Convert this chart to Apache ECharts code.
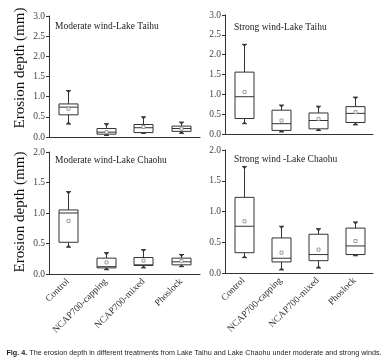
<!DOCTYPE html>
<html><head><meta charset="utf-8">
<script src="https://cdn.jsdelivr.net/npm/echarts@6/dist/echarts.min.js"></script>
<style>html,body{margin:0;padding:0;background:#fff}#c{width:386px;height:364px}</style>
</head><body><div id="c"></div>
<script>
const categories = ['Control', 'NCAP700-capping', 'NCAP700-mixed', 'Phoslock'];
// [min, Q1, median, Q3, max]
const modTaihu = [[0.32,0.55,0.74,0.82,1.15],[0.04,0.07,0.12,0.21,0.33],[0.09,0.11,0.23,0.31,0.50],[0.09,0.14,0.21,0.27,0.37]];
const modTaihuMean = [0.70,0.12,0.25,0.21];
const strTaihu = [[0.26,0.39,0.94,1.56,2.26],[0.05,0.09,0.26,0.60,0.73],[0.09,0.13,0.34,0.53,0.70],[0.23,0.29,0.52,0.69,0.93]];
const strTaihuMean = [1.06,0.34,0.38,0.55];
const modChaohu = [[0.44,0.52,1.00,1.05,1.35],[0.07,0.10,0.12,0.26,0.35],[0.10,0.14,0.15,0.27,0.40],[0.12,0.15,0.20,0.26,0.32]];
const modChaohuMean = [0.87,0.19,0.22,0.21];
const strChaohu = [[0.25,0.33,0.76,1.23,1.73],[0.05,0.18,0.24,0.57,0.76],[0.08,0.20,0.30,0.63,0.72],[0.28,0.30,0.44,0.73,0.83]];
const strChaohuMean = [0.84,0.33,0.38,0.52];
const panelTitles = ['Moderate wind-Lake Taihu', 'Strong wind-Lake Taihu', 'Moderate wind-Lake Chaohu', 'Strong wind -Lake Chaohu'];
const yMaxTop = 3.0, yMaxBottom = 2.0, yInterval = 0.5;

const SERIF = 'Liberation Serif, DejaVu Serif, serif';
const LINE = '#333';

function renderBox(params, api) {
  const x = api.value(0);
  const pMin = api.coord([x, api.value(1)]);
  const pQ1 = api.coord([x, api.value(2)]);
  const pMed = api.coord([x, api.value(3)]);
  const pQ3 = api.coord([x, api.value(4)]);
  const pMax = api.coord([x, api.value(5)]);
  const pMean = api.coord([x, api.value(6)]);
  const cx = Math.round(pMed[0]) + 0.5;
  const hw = 9.5, cw = 2.5;
  const st = { stroke: LINE, lineWidth: 1, fill: null };
  const line = (x1, y1, x2, y2) => ({ type: 'line', shape: { x1, y1, x2, y2 }, style: st });
  const tri = (y, dir) => ({ type: 'polygon', shape: { points: [[cx - 2, y], [cx + 2, y], [cx, y + dir * 3]] }, style: { fill: LINE } });
  return {
    type: 'group',
    children: [
      line(cx, pQ3[1], cx, pMax[1]),
      line(cx, pQ1[1], cx, pMin[1]),
      line(cx - cw, pMax[1], cx + cw, pMax[1]),
      line(cx - cw, pMin[1], cx + cw, pMin[1]),
      tri(pMax[1], 1),
      tri(pMin[1], -1),
      { type: 'rect', shape: { x: cx - hw, y: pQ3[1], width: hw * 2, height: pQ1[1] - pQ3[1] }, style: { stroke: LINE, lineWidth: 1, fill: '#fff' } },
      line(cx - hw, pMed[1], cx + hw, pMed[1]),
      { type: 'rect', shape: { x: cx - 1.5, y: pMean[1] - 1.5, width: 3, height: 3 }, style: { stroke: '#888', lineWidth: 0.8, fill: '#fff' } }
    ]
  };
}

const panels = [
  { box: modTaihu, mean: modTaihuMean, max: yMaxTop, grid: { left: 49, top: 16, width: 151, height: 121 }, labels: false },
  { box: strTaihu, mean: strTaihuMean, max: yMaxTop, grid: { left: 225, top: 15, width: 148, height: 119 }, labels: false },
  { box: modChaohu, mean: modChaohuMean, max: yMaxBottom, grid: { left: 49, top: 152, width: 151, height: 122 }, labels: true },
  { box: strChaohu, mean: strChaohuMean, max: yMaxBottom, grid: { left: 225, top: 150, width: 148, height: 123 }, labels: true }
];

const option = {
  backgroundColor: '#fff',
  animation: false,
  grid: panels.map(p => p.grid),
  xAxis: panels.map((p, i) => ({
    type: 'category', gridIndex: i, data: categories, boundaryGap: true,
    axisLine: { lineStyle: { color: LINE, width: 1 } },
    axisTick: { alignWithLabel: true, length: 3, lineStyle: { color: LINE } },
    axisLabel: { show: p.labels, rotate: 45, fontFamily: SERIF, fontSize: 9.5, color: '#333', margin: 6, interval: 0 }
  })),
  yAxis: panels.map((p, i) => ({
    type: 'value', gridIndex: i, min: 0, max: p.max, interval: yInterval,
    axisLine: { show: true, lineStyle: { color: LINE, width: 1 } },
    axisTick: { show: true, length: 3, lineStyle: { color: LINE } },
    splitLine: { show: false },
    axisLabel: { fontFamily: SERIF, fontSize: 9.5, color: '#444', margin: 4, formatter: v => v.toFixed(1) }
  })),
  series: panels.map((p, i) => ({
    type: 'custom', xAxisIndex: i, yAxisIndex: i,
    renderItem: renderBox,
    encode: { x: 0, y: [1, 2, 3, 4, 5] },
    data: p.box.map((b, j) => [j, b[0], b[1], b[2], b[3], b[4], p.mean[j]])
  })),
  graphic: [
    { type: 'text', left: 55, top: 21, style: { text: panelTitles[0], font: '9.5px ' + SERIF, fill: '#222' } },
    { type: 'text', left: 234, top: 22, style: { text: panelTitles[1], font: '9.5px ' + SERIF, fill: '#222' } },
    { type: 'text', left: 55, top: 155, style: { text: panelTitles[2], font: '9.5px ' + SERIF, fill: '#222' } },
    { type: 'text', left: 234, top: 154, style: { text: panelTitles[3], font: '9.5px ' + SERIF, fill: '#222' } },
    { type: 'text', x: 20, y: 68, rotation: Math.PI / 2, style: { text: 'Erosion depth (mm)', font: '15px ' + SERIF, fill: '#111', align: 'center', verticalAlign: 'middle' } },
    { type: 'text', x: 20, y: 212, rotation: Math.PI / 2, style: { text: 'Erosion depth (mm)', font: '15px ' + SERIF, fill: '#111', align: 'center', verticalAlign: 'middle' } },
    { type: 'text', x: 194, y: 353, style: {
        text: '{b|Fig. 4.} The erosion depth in different treatments from Lake Taihu and Lake Chaohu under moderate and strong winds.',
        align: 'center', verticalAlign: 'middle',
        rich: { b: { fontWeight: 'bold', fontSize: 7.2, fontFamily: 'Liberation Sans Narrow, Liberation Sans, sans-serif', fill: '#1a1a2e' } },
        font: '7.2px Liberation Sans Narrow, Liberation Sans, sans-serif', fill: '#1a1a2e' } }
  ]
};
echarts.init(document.getElementById('c')).setOption(option);
</script>
</body></html>
